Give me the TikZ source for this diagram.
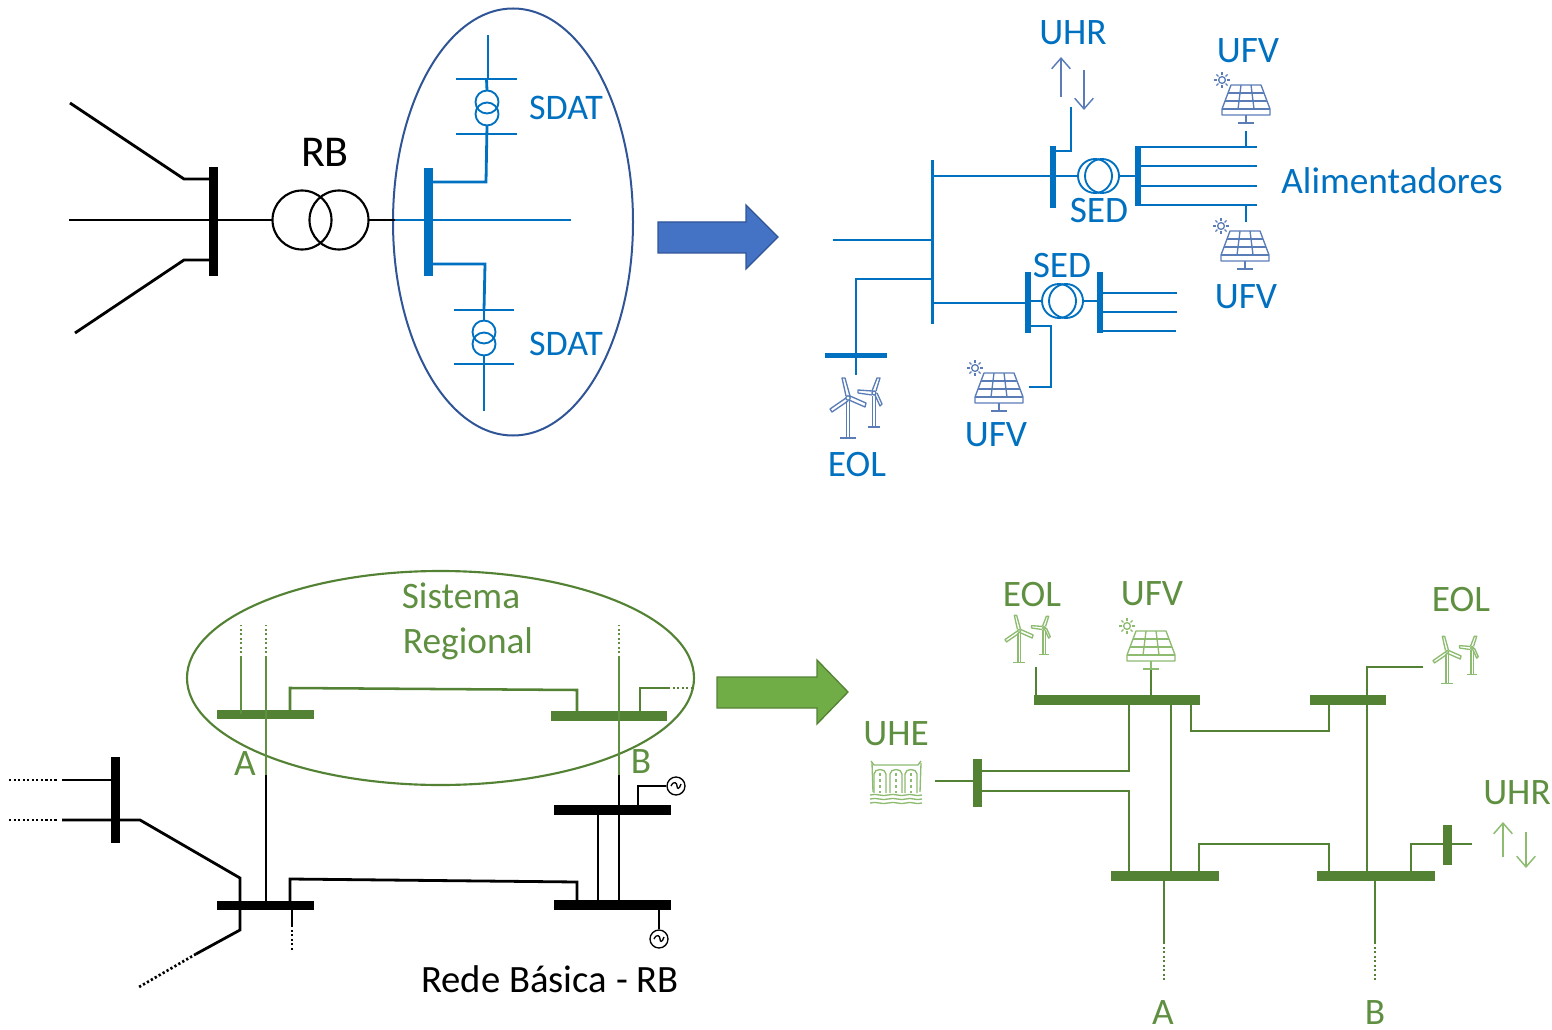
\documentclass[tikz,border=0pt]{standalone}
\usepackage{fontspec}
\setmainfont{Carlito}
\usetikzlibrary{shapes.geometric,arrows.meta,calc}
\definecolor{bl}{HTML}{0070C0}
\definecolor{dbl}{HTML}{2F5597}
\definecolor{ibl}{HTML}{5A7DB8}
\definecolor{gr}{HTML}{548235}
\definecolor{lgr}{HTML}{8DBB70}
\definecolor{tgr}{HTML}{5F8F40}
\definecolor{arbl}{HTML}{4472C4}
\definecolor{argr}{HTML}{70AD47}
\tikzset{
  busst/.style={rectangle,inner sep=0pt,outer sep=0pt},
  wire/.style={line width=2.1pt,line join=miter},
  thinw/.style={line width=1.9pt},
  dots/.style={line width=2pt,dash pattern=on 1.7pt off 1.7pt},
  lab/.style={inner sep=0pt,font=\fontsize{28}{30}\selectfont},
  trafo/.style={circle,draw,inner sep=0pt,outer sep=0pt,fill=none},
  icon/.style={line width=1pt,line join=round},
  updown/.style={line width=1.1pt,-{Straight Barb[length=8pt,width=14pt]}},
  blockarrow/.style={line width=1pt}
}
\newcommand{\busnode}[6]{\node[busst,fill=#6,minimum width=#4*0.75pt,minimum height=#5*0.75pt] (#1) at (#2,#3) {};}
\newcommand{\windicon}[4]{% x y scale colour (hub)
 \begin{scope}[shift={(#1,#2)},scale=#3,icon,draw=#4]
  \draw (-1.5,3) -- (-1.5,40) (1.5,3) -- (1.5,40) (-8,40) -- (8,40);
  \draw (0,0) circle (2.2);
  \draw (-2,-2) -- (-6,-20) -- (-3,-20) -- (2,-2);
  \draw (2,-2) -- (18,5) -- (17,9) -- (1,2);
  \draw (-2,0) -- (-18,11) -- (-16,14) -- (0,3);
 \end{scope}}
\newcommand{\windsmall}[4]{% mirrored small turbine
 \begin{scope}[shift={(#1,#2)},scale=#3,icon,draw=#4]
  \draw (-1.5,3) -- (-1.5,34) (1.5,3) -- (1.5,34) (-6,34) -- (6,34);
  \draw (0,0) circle (2);
  \draw (-2,-2) -- (3,-15) -- (6,-15) -- (2,-2);
  \draw (-2,-2) -- (-16,-3) -- (-16,0) -- (-2,2);
  \draw (1,2) -- (6,13) -- (8,11) -- (3,0);
 \end{scope}}
\newcommand{\solaricon}[3]{% x y colour (top centre of panel)
 \begin{scope}[shift={(#1,#2)},icon,draw=#3]
  \draw (-15,0) -- (15,0) -- (24,24) -- (24,30) -- (-24,30) -- (-24,24) -- cycle;
  \draw (-24,24) -- (24,24);
  \draw (-18,8) -- (18,8) (-21,16) -- (21,16);
  \draw (-5,0) -- (-8,24) (5,0) -- (8,24);
  \draw (0,30) -- (0,38) (-8,38) -- (8,38);
  \draw (-24,-5) circle (3.4);
  \foreach \a in {0,45,...,315} \draw (-24,-5) ++(\a:5) -- ++(\a:2.8);
 \end{scope}}
\newcommand{\genicon}[1]{%
 \draw[line width=1pt] ($(#1)+(-5,0)$) .. controls ($(#1)+(-2,-6)$) and ($(#1)+(1,-3)$) .. ($(#1)+(1,0)$) .. controls ($(#1)+(1,3)$) and ($(#1)+(3,4)$) .. ($(#1)+(5,-2)$);}
\begin{document}
\begin{tikzpicture}[x=0.75pt,y=-0.75pt]
\useasboundingbox (0,0) rectangle (1552,1030);

%% ---------- top left ----------
\node[ellipse,draw=dbl,line width=1.5pt,inner sep=0pt,minimum width=240*0.75pt,minimum height=427*0.75pt] (elB) at (513,222) {};
\busnode{rbBus}{213}{221.5}{9}{109}{black}
\busnode{sdBus}{428}{222}{9}{108}{bl}
\node[trafo,black,line width=1.6pt,minimum size=59*0.75pt] (rbT1) at (302,220) {};
\node[trafo,black,line width=1.6pt,minimum size=59*0.75pt] (rbT2) at (339,220) {};
\coordinate (l1a) at (70,103); \coordinate (l1b) at (184,179);
\coordinate (l2a) at (69,220);
\coordinate (l3a) at (75,333); \coordinate (l3b) at (184,260);
\coordinate (mid) at (395,220);
\coordinate (midEnd) at (571,220);
\draw[wire] (l1a) -- (l1b) -- (l1b -| rbBus.center);
\draw[wire] (l3a) -- (l3b) -- (l3b -| rbBus.center);
\draw[wire] (l2a) -- (rbT1.west);
\draw[wire] (rbT2.east) -- (mid);
\draw[wire,bl] (mid) -- (midEnd);
\node[lab,black,font=\fontsize{33}{35}\selectfont] (tRB) at (325,152) {RB};
% upper SDAT
\node[busst,draw=bl,line width=.9pt,minimum width=59*0.75pt] (s1a) at (486.5,79) {};
\node[busst,draw=bl,line width=.9pt,minimum width=59*0.75pt] (s1b) at (486.5,134) {};
\node[trafo,bl,line width=1.4pt,minimum size=23*0.75pt] (s1t1) at (487,102) {};
\node[trafo,bl,line width=1.4pt,minimum size=23*0.75pt] (s1t2) at (487,114) {};
\coordinate (s1top) at (488,35);
\coordinate (s1j) at (486,182);
\draw[wire,bl] (s1top) -- (s1top |- s1a.center);
\draw[wire,bl] (s1a.center) -- (s1t1.north);
\draw[wire,bl] (s1t2.south) -- (s1j) -- (s1j -| sdBus.center);
% lower SDAT
\node[busst,draw=bl,line width=.9pt,minimum width=59*0.75pt] (s2a) at (484,310) {};
\node[busst,draw=bl,line width=.9pt,minimum width=59*0.75pt] (s2b) at (484,364) {};
\node[trafo,bl,line width=1.4pt,minimum size=23*0.75pt] (s2t1) at (484,332) {};
\node[trafo,bl,line width=1.4pt,minimum size=23*0.75pt] (s2t2) at (484,344) {};
\coordinate (s2j) at (485,264);
\coordinate (s2end) at (484,411);
\draw[wire,bl] (sdBus.center |- s2j) -- (s2j) -- (s2a.center);
\draw[wire,bl] (s2a.center) -- (s2t1.north);
\draw[wire,bl] (s2t2.south) -- (s2b.center) -- (s2end);
\node[lab,bl,font=\fontsize{27}{29}\selectfont] (tS1) at (566,108) {SDAT};
\node[lab,bl,font=\fontsize{27}{29}\selectfont] (tS2) at (566,344) {SDAT};

%% arrows
\draw[draw=dbl,fill=arbl,blockarrow] (658,222) -- (746,222) -- (746,205) -- (778,237) -- (746,269) -- (746,253) -- (658,253) -- cycle;
\draw[draw=gr,fill=argr,blockarrow] (717,677) -- (817,677) -- (817,660) -- (848,692) -- (817,724) -- (817,708) -- (717,708) -- cycle;

%% ---------- top right ----------
\busnode{mainV}{932}{242}{3}{164}{bl}
\busnode{b1}{1053}{177}{6}{62}{bl}
\busnode{b2}{1138}{176}{6}{60}{bl}
\busnode{b3}{1028}{302.5}{6}{61}{bl}
\busnode{b4}{1100}{302.5}{6}{61}{bl}
\busnode{b5}{856}{356}{62}{5}{bl}
\node[trafo,bl,line width=1.4pt,minimum size=34*0.75pt] (t1a) at (1095,176) {};
\node[trafo,bl,line width=1.4pt,minimum size=34*0.75pt] (t1b) at (1102,176) {};
\node[trafo,bl,line width=1.4pt,minimum size=34*0.75pt] (t2a) at (1059,301) {};
\node[trafo,bl,line width=1.4pt,minimum size=34*0.75pt] (t2b) at (1066,301) {};
\coordinate (f1) at (833,240);
\coordinate (f2) at (856,279);
\coordinate (f3) at (856,375);
\coordinate (h1) at (932,176);
\coordinate (h2) at (932,303);
\draw[wire,bl] (f1) -- (f1 -| mainV.center);
\draw[wire,bl] (mainV.center |- f2) -- (f2) -- (f3);
\draw[wire,bl] (h1) -- (h1 -| b1.center);
\draw[wire,bl] (b1.center |- t1a.center) -- (t1a.west);
\draw[wire,bl] (t1b.east) -- (b2.center |- t1b.center);
\draw[wire,bl] (h2) -- (h2 -| b3.center);
\draw[wire,bl] (b3.center |- t2a.center) -- (t2a.west);
\draw[wire,bl] (t2b.east) -- (b4.center |- t2b.center);
\coordinate (a1) at (1257,147); \coordinate (a2) at (1257,166); \coordinate (a3) at (1257,186); \coordinate (a4) at (1257,205);
\foreach \p in {a1,a2,a3,a4} \draw[wire,bl] (b2.center |- \p) -- (\p);
\coordinate (c1) at (1177,293); \coordinate (c2) at (1177,312); \coordinate (c3) at (1176,331);
\foreach \p in {c1,c2,c3} \draw[wire,bl] (b4.center |- \p) -- (\p);
\coordinate (u1) at (1071,107); \coordinate (u2) at (1071,151);
\draw[wire,bl] (u1) -- (u2) -- (u2 -| b1.center);
\coordinate (v1) at (1051,326); \coordinate (v2) at (1029,387);
\draw[wire,bl] (b3.center |- v1) -- (v1) |- (v2);
\coordinate (w1) at (1246,131); \coordinate (w2) at (1246,222);
\draw[wire,bl] (w1) -- (w1 |- a1);
\draw[wire,bl] (w2) -- (w2 |- a4);
\coordinate (ua1) at (1061,97); \coordinate (ua2) at (1061,57);
\coordinate (ud1) at (1084,70); \coordinate (ud2) at (1084,110);
\draw[updown,ibl] (ua1) -- (ua2);
\draw[updown,ibl] (ud1) -- (ud2);
\solaricon{1246}{85}{ibl}
\solaricon{1245}{231}{ibl}
\solaricon{999}{373}{ibl}
\windicon{848}{398}{1}{ibl}
\windsmall{874}{393}{1}{ibl}
\node[lab,bl] (tUHRb) at (1073,33) {UHR};
\node[lab,bl] (tUFV1) at (1248,51) {UFV};
\node[lab,bl] (tAlim) at (1392,181) {Alimentadores};
\node[lab,bl] (tSED1) at (1099,211) {SED};
\node[lab,bl] (tSED2) at (1062,266) {SED};
\node[lab,bl] (tUFV2) at (1246,297) {UFV};
\node[lab,bl] (tUFV3) at (996,435) {UFV};
\node[lab,bl] (tEOLb) at (857,465) {EOL};

%% ---------- bottom left ----------
\busnode{gA}{265.5}{714}{97}{9}{gr}
\busnode{gB}{609}{716}{116}{10}{gr}
\busnode{kA}{265.5}{905}{97}{9}{black}
\busnode{kB1}{612.5}{810}{117}{10}{black}
\busnode{kB2}{612.5}{905}{117}{10}{black}
\busnode{kV}{115}{800}{9}{86}{black}
\node[ellipse,draw=gr,line width=1.6pt,inner sep=0pt,minimum width=507*0.75pt,minimum height=214*0.75pt] (elG) at (440.5,678) {};
\coordinate (g1) at (241,658); \coordinate (g1t) at (241,625);
\coordinate (g2) at (266,658); \coordinate (g2t) at (266,625); \coordinate (g2m) at (266,775);
\coordinate (g3) at (619,658); \coordinate (g3t) at (619,625); \coordinate (g3m) at (619,775);
\draw[thinw,tgr] (g1) -- (g1 |- gA.center);
\draw[dots,tgr] (g1) -- (g1t);
\draw[thinw,tgr] (g2) -- (g2m);
\draw[dots,tgr] (g2) -- (g2t);
\draw[thinw,tgr] (g3) -- (g3m);
\draw[dots,tgr] (g3) -- (g3t);
\draw[wire,black] (g2m) -- (g2m |- kA.center);
\draw[wire,black] (g3m) -- (g3m |- kB2.center);
\coordinate (r1) at (290,688); \coordinate (r2) at (577,690);
\draw[thinw,gr] (r1 |- gA.center) -- (r1) -- (r2) -- (r2 |- gB.center);
\coordinate (r3) at (640,688); \coordinate (r4) at (668,688); \coordinate (r5) at (692,688);
\draw[thinw,gr] (r3 |- gB.center) -- (r3) -- (r4);
\draw[dots,gr] (r4) -- (r5);
\node[lab,tgr] (tSis) at (461,596) {Sistema};
\node[lab,tgr] (tReg) at (468,644) {Regional};
\node[lab,tgr] (tAg) at (245,764) {A};
\node[lab,tgr] (tBg) at (641,762) {B};
\coordinate (k1) at (62,780); \coordinate (k1d) at (9,780); \coordinate (k1e) at (58,780);
\coordinate (k2) at (62,820); \coordinate (k2d) at (9,820); \coordinate (k2e) at (58,820);
\coordinate (k3) at (140,820); \coordinate (k4) at (240,878); \coordinate (k5) at (240,930);
\coordinate (k6) at (196,954); \coordinate (k7) at (139,987);
\draw[wire] (k1) -- (k1 -| kV.center);
\draw[dots] (k1d) -- (k1e);
\draw[dots] (k2d) -- (k2e);
\draw[wire] (k2) -- (k3) -- (k4) -- (k5) -- (k6);
\draw[dots] (k6) -- (k7);
\coordinate (k8) at (290,879); \coordinate (k9) at (577,882);
\draw[wire] (k8 |- kA.center) -- (k8) -- (k9) -- (k9 |- kB2.center);
\coordinate (k10) at (598,810);
\draw[wire] (k10) -- (k10 |- kB2.center);
\coordinate (k11) at (292,925); \coordinate (k12) at (292,952);
\draw[wire] (k11 |- kA.center) -- (k11);
\draw[dots] (k11) -- (k12);
\node[circle,draw,line width=1pt,inner sep=0pt,minimum size=18*0.75pt] (gen1) at (676,786) {};
\node[circle,draw,line width=1pt,inner sep=0pt,minimum size=18*0.75pt] (gen2) at (659,939) {};
\genicon{gen1}
\genicon{gen2}
\coordinate (k13) at (638,786);
\draw[wire] (k13 |- kB1.center) -- (k13) -- (gen1.west);
\draw[wire] (gen2.north |- kB2.center) -- (gen2.north);
\node[lab,black,font=\fontsize{29}{31}\selectfont] (tRede) at (550,979) {Rede Básica - RB};

%% ---------- bottom right ----------
\busnode{n1}{1117}{700}{166}{10}{gr}
\busnode{n2}{1348}{700}{76}{10}{gr}
\busnode{n3}{1165}{876}{108}{10}{gr}
\busnode{n4}{1376}{876}{118}{10}{gr}
\busnode{n5}{977}{783}{9}{48}{gr}
\busnode{n6}{1447}{845}{9}{40}{gr}
\coordinate (e1) at (1036,667); \coordinate (e2) at (1151,668);
\draw[wire,gr] (e1) -- (e1 |- n1.center);
\draw[wire,gr] (e2) -- (e2 |- n1.center);
\coordinate (e3) at (1129,771); \coordinate (e4) at (1129,791);
\draw[wire,gr] (e3 |- n1.center) -- (e3) -- (e3 -| n5.center);
\draw[wire,gr] (e4 -| n5.center) -- (e4) -- (e4 |- n3.center);
\coordinate (e5) at (1171,705);
\draw[wire,gr] (e5 |- n1.center) -- (e5 |- n3.center);
\coordinate (e6) at (1191,731); \coordinate (e7) at (1329,731);
\draw[wire,gr] (e6 |- n1.center) -- (e6) -- (e7) -- (e7 |- n2.center);
\coordinate (e8) at (1367,667); \coordinate (e9) at (1423,667);
\draw[wire,gr] (e8 |- n2.center) -- (e8) -- (e9);
\draw[wire,gr] (e8 |- n2.center) -- (e8 |- n4.center);
\coordinate (e10) at (1199,844); \coordinate (e11) at (1329,844);
\draw[wire,gr] (e10 |- n3.center) -- (e10) -- (e11) -- (e11 |- n4.center);
\coordinate (e12) at (1411,844); \coordinate (e13) at (1472,844);
\draw[wire,gr] (e12 |- n4.center) -- (e12) -- (e13);
\coordinate (e14) at (935,781);
\draw[wire,gr] (e14) -- (e14 -| n5.center);
\coordinate (e15) at (1164,942); \coordinate (e16) at (1164,980);
\coordinate (e17) at (1375,942); \coordinate (e18) at (1375,980);
\draw[wire,gr] (e15 |- n3.center) -- (e15);
\draw[dots,gr] (e15) -- (e16);
\draw[wire,gr] (e17 |- n4.center) -- (e17);
\draw[dots,gr] (e17) -- (e18);
\coordinate (ga1) at (1503,857); \coordinate (ga2) at (1503,822);
\coordinate (gd1) at (1526,832); \coordinate (gd2) at (1526,868);
\draw[updown,lgr] (ga1) -- (ga2);
\draw[updown,lgr] (gd1) -- (gd2);
\windicon{1019}{631}{0.78}{lgr}
\windsmall{1044}{628}{0.78}{lgr}
\windicon{1447}{652}{0.78}{lgr}
\windsmall{1472}{648}{0.78}{lgr}
\solaricon{1151}{631}{lgr}
% UHE icon
\begin{scope}[icon,draw=lgr]
 \draw (871,761) -- (874,765) -- (918,765) -- (921,761);
 \draw (872,763) -- (873,792) (921,763) -- (920,792);
 \foreach \xx in {880,896,911} {
  \draw (\xx-6,793) -- (\xx-6,774) .. controls (\xx-6,768) and (\xx+6,768) .. (\xx+6,774) -- (\xx+6,793);
  \draw[dash pattern=on 2pt off 2.5pt,line width=1pt] (\xx,773) -- (\xx,793);
 }
 \foreach \yy in {795,799,803}
  \draw (870,\yy) .. controls (877,\yy-2) and (882,\yy+2) .. (888,\yy) .. controls (895,\yy-2) and (900,\yy+2) .. (906,\yy) .. controls (911,\yy-2) and (916,\yy+2) .. (922,\yy);
\end{scope}
\node[lab,tgr] (tEOL1) at (1032,595) {EOL};
\node[lab,tgr] (tUFVg) at (1152,594) {UFV};
\node[lab,tgr] (tEOL2) at (1461,600) {EOL};
\node[lab,tgr] (tUHE) at (896,734) {UHE};
\node[lab,tgr] (tUHRg) at (1517,793) {UHR};
\node[lab,tgr] (tAr) at (1163,1013) {A};
\node[lab,tgr] (tBr) at (1375,1013) {B};
\end{tikzpicture}
\end{document}
